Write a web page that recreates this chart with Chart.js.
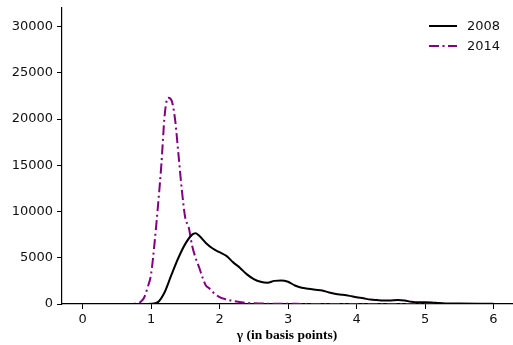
<!DOCTYPE html>
<html>
<head>
<meta charset="utf-8">
<script src="https://cdn.jsdelivr.net/npm/chart.js@4.4.1/dist/chart.umd.min.js"></script>
<style>
    html, body { margin: 0; padding: 0; background: #ffffff; }
    #wrap { width: 513px; height: 345px; position: relative; }
</style>
</head>
<body>
<div id="wrap"><canvas id="density"></canvas></div>
<script>
// density of gamma, 2008 sample
const x2008 = [0, 0.5, 0.9, 1.0, 1.1, 1.2, 1.3, 1.4, 1.5, 1.6, 1.65, 1.7, 1.8, 1.9, 2.0, 2.1, 2.2, 2.3, 2.4, 2.5,
    2.6, 2.7, 2.8, 2.9, 3.0, 3.1, 3.2, 3.3, 3.4, 3.5, 3.6, 3.7, 3.8, 3.9, 4.0, 4.1, 4.2, 4.3, 4.4, 4.5,
    4.6, 4.7, 4.8, 4.9, 5.0, 5.1, 5.2, 5.3, 5.5, 6.0];
const y2008 = [0, 0, 0, 20, 200, 1300, 3200, 5000, 6500, 7500, 7650, 7400, 6600, 6000, 5600, 5200, 4500, 3900, 3200, 2700,
    2400, 2300, 2500, 2550, 2400, 2000, 1750, 1650, 1550, 1450, 1250, 1080, 1000, 880, 720, 620, 480, 420, 380, 390,
    430, 380, 240, 180, 190, 170, 100, 60, 50, 30];

// density of gamma, 2014 sample
const x2014 = [0, 0.5, 0.8, 0.85, 0.9, 0.95, 1.0, 1.05, 1.1, 1.15, 1.2, 1.25, 1.3, 1.35, 1.4, 1.45, 1.5, 1.55, 1.6, 1.65,
    1.7, 1.75, 1.8, 1.85, 1.9, 2.0, 2.1, 2.2, 2.4, 2.6, 3.0, 3.5, 4.0, 5.0, 6.0];
const y2014 = [0, 0, 40, 250, 700, 1800, 3200, 6500, 10500, 15000, 20500, 22300, 22000, 20000, 16200, 12300, 9300, 8300, 6300, 5000,
    4000, 2900, 2000, 1700, 1300, 750, 500, 330, 120, 50, 20, 5, 0, 0, 0];

const xTicks = [0, 1, 2, 3, 4, 5, 6];
const yTicks = [0, 5000, 10000, 15000, 20000, 25000, 30000];

const toPoints = (xs, ys) => xs.map((x, i) => ({ x, y: ys[i] }));
const tickFont = { family: 'DejaVu Sans', size: 13 };

// matplotlib-style legend: short line sample followed by the label, no frame
const lineLegend = {
    id: 'lineLegend',
    afterDraw(chart) {
        const { ctx, chartArea } = chart;
        const x0 = chartArea.right - 83;
        ctx.save();
        ctx.font = '13px "DejaVu Sans"';
        ctx.textBaseline = 'middle';
        chart.data.datasets.forEach((ds, i) => {
            const y = chartArea.top + 18 + i * 20;
            ctx.beginPath();
            ctx.strokeStyle = ds.borderColor;
            ctx.lineWidth = ds.borderWidth;
            ctx.setLineDash(ds.borderDash || []);
            ctx.moveTo(x0, y);
            ctx.lineTo(x0 + 28, y);
            ctx.stroke();
            ctx.setLineDash([]);
            ctx.fillStyle = '#111';
            ctx.fillText(ds.label, x0 + 38, y + 1);
        });
        ctx.restore();
    }
};

new Chart(document.getElementById('density'), {
    type: 'line',
    data: {
        datasets: [
            {
                label: '2008',
                data: toPoints(x2008, y2008),
                borderColor: '#000000',
                borderWidth: 2,
                pointRadius: 0,
                cubicInterpolationMode: 'monotone',
                fill: false
            },
            {
                label: '2014',
                data: toPoints(x2014, y2014),
                borderColor: '#800080',
                borderWidth: 2,
                borderDash: [10, 3.5, 2, 3.5],
                pointRadius: 0,
                cubicInterpolationMode: 'monotone',
                fill: false
            }
        ]
    },
    options: {
        responsive: true,
        maintainAspectRatio: false,
        animation: false,
        layout: { padding: { top: 8, right: 1, left: 0, bottom: 0 } },
        plugins: {
            legend: { display: false },
            tooltip: { enabled: false }
        },
        scales: {
            x: {
                type: 'linear',
                min: -0.3,
                max: 6.27,
                afterBuildTicks(scale) {
                    scale.ticks = xTicks.map((value) => ({ value }));
                },
                afterFit(scale) {
                    scale.height = 41;
                    scale.paddingLeft = 0;
                    scale.paddingRight = 0;
                },
                ticks: { color: '#111', font: tickFont, padding: 3, callback: (v) => String(v) },
                grid: { display: true, drawOnChartArea: false, tickLength: 5, color: '#000', tickWidth: 1 },
                border: { display: true, color: '#000', width: 1.2 },
                title: {
                    display: true,
                    text: 'γ (in basis points)',
                    color: '#000',
                    font: { family: 'Liberation Serif', size: 13.5, weight: 'bold' },
                    padding: { top: 0, bottom: 1 }
                }
            },
            y: {
                min: 0,
                max: 32000,
                afterBuildTicks(scale) {
                    scale.ticks = yTicks.map((value) => ({ value }));
                },
                afterFit(scale) {
                    scale.width = 62;
                    scale.paddingTop = 0;
                    scale.paddingBottom = 0;
                },
                ticks: { color: '#111', font: tickFont, padding: 4, callback: (v) => String(v) },
                grid: { display: true, drawOnChartArea: false, tickLength: 5, color: '#000', tickWidth: 1 },
                border: { display: true, color: '#000', width: 1.2 }
            }
        }
    },
    plugins: [lineLegend]
});
</script>
</body>
</html>
